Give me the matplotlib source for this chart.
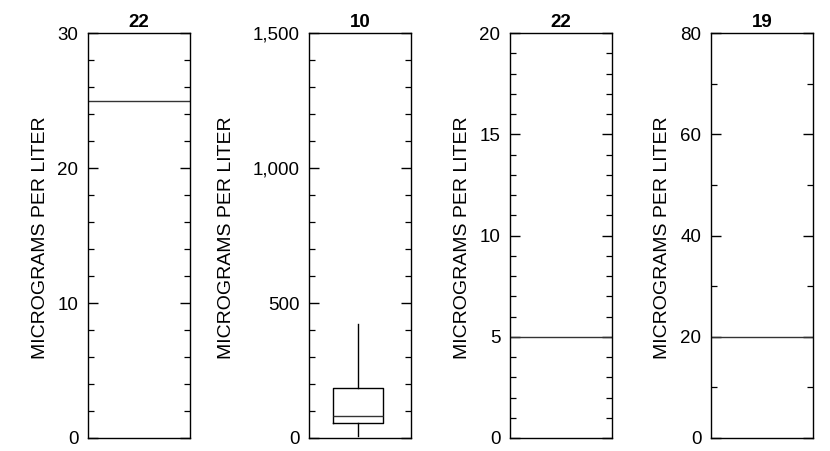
import matplotlib
matplotlib.use("Agg")
import matplotlib.pyplot as plt
from matplotlib.ticker import MultipleLocator, FuncFormatter

plt.rcParams['font.family'] = ['Liberation Sans', 'DejaVu Sans']

# Number of samples shown above each panel
sample_counts = [22, 10, 22, 19]

# Axis ranges and tick spacing (major, minor) per panel
y_limits = [30, 1500, 20, 80]
major_steps = [10, 500, 5, 20]
minor_steps = [2, 100, 1, 10]

# Panels where every value is below the reporting level (drawn as a flat line)
flat_levels = {0: 25, 2: 5, 3: 20}

# Box-plot summary for the second panel
box_q1 = 56
box_median = 80
box_q3 = 187
box_low = 9
box_high = 421

ylabel = "MICROGRAMS PER LITER"

fig = plt.figure(figsize=(8.30, 4.51), dpi=100)

lefts = [88, 309, 510, 711]
ax_w = 102
ax_bottom = 13
ax_h = 405
label_x = [49, 235, 471, 671]

for i in range(4):
    ax = fig.add_axes([lefts[i] / 830, ax_bottom / 451, ax_w / 830, ax_h / 451])
    ax.set_xlim(0, 1)
    ax.set_ylim(0, y_limits[i])
    ax.set_xticks([])
    ax.yaxis.set_major_locator(MultipleLocator(major_steps[i]))
    ax.yaxis.set_minor_locator(MultipleLocator(minor_steps[i]))
    ax.yaxis.set_major_formatter(FuncFormatter(lambda v, p: f"{int(v):,}"))
    ax.tick_params(axis='y', which='both', direction='in', left=True, right=True,
                   labelleft=True, labelright=False, color='black')
    ax.tick_params(axis='y', which='major', length=7, width=1.0, pad=7, labelsize=13.5)
    ax.tick_params(axis='y', which='minor', length=4, width=0.9)
    for s in ax.spines.values():
        s.set_linewidth(1.0)
        s.set_color('black')

    ax.set_title(str(sample_counts[i]), fontsize=13.5, fontweight='bold', pad=4.5)
    ax.set_ylabel(ylabel, fontsize=14)
    ax.yaxis.set_label_coords((label_x[i] - lefts[i]) / ax_w, 0.495)

    if i in flat_levels:
        ax.axhline(flat_levels[i], color='#333333', linewidth=1.0)
    else:
        stats = [dict(med=box_median, q1=box_q1, q3=box_q3,
                      whislo=box_low, whishi=box_high, fliers=[])]
        ax.bxp(stats, positions=[0.48], widths=0.49, showcaps=False,
               showfliers=False, manage_ticks=False,
               boxprops=dict(color='black', linewidth=1.0),
               whiskerprops=dict(color='black', linewidth=1.0),
               medianprops=dict(color='#333333', linewidth=1.0))

fig.savefig("out.png", dpi=100)
